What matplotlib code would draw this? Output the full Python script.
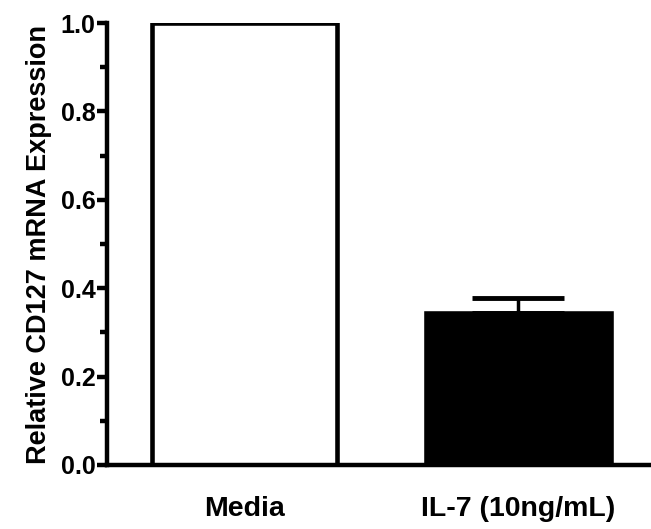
import matplotlib
matplotlib.use("Agg")
import matplotlib.pyplot as plt
from matplotlib.ticker import MultipleLocator

groups = ["Media", "IL-7 (10ng/mL)"]
values = [1.0, 0.345]
errors = [0.0, 0.033]
fills = ["white", "black"]

plt.rcParams['font.family'] = ['Liberation Sans', 'DejaVu Sans']
plt.rcParams['font.weight'] = 'bold'

fig = plt.figure(figsize=(6.51, 5.29), dpi=100)
ax = fig.add_axes([0.164, 0.121, 0.836, 0.8355])

x = range(len(groups))
ax.bar(x, values, width=0.675, color=fills, edgecolor="black", linewidth=3.3, zorder=2)
ax.errorbar([1], [values[1]], yerr=[[0], [errors[1]]], fmt="none", ecolor="black",
            elinewidth=2.5, capsize=33, capthick=3.5, zorder=3)

ax.set_xlim(-0.502, 1.484)
ax.set_ylim(0, 1.0)
ax.yaxis.set_major_locator(MultipleLocator(0.2))
ax.yaxis.set_minor_locator(MultipleLocator(0.1))
ax.set_yticklabels([f"{v:.1f}" for v in ax.get_yticks()])
ax.set_xticks(list(x))
ax.set_xticklabels(groups, fontsize=20.5, fontweight="bold")

for side in ["top", "right"]:
    ax.spines[side].set_visible(False)
for side in ["left", "bottom"]:
    ax.spines[side].set_linewidth(3.2)

ax.tick_params(axis="y", which="major", length=7, width=3.2, labelsize=18, pad=1)
ax.tick_params(axis="y", which="minor", length=5, width=3.2)
ax.tick_params(axis="x", length=0, pad=22)

ax.set_ylabel("Relative CD127 mRNA Expression", fontsize=19.5, fontweight="bold", labelpad=6)

fig.savefig("out.png", dpi=100)
